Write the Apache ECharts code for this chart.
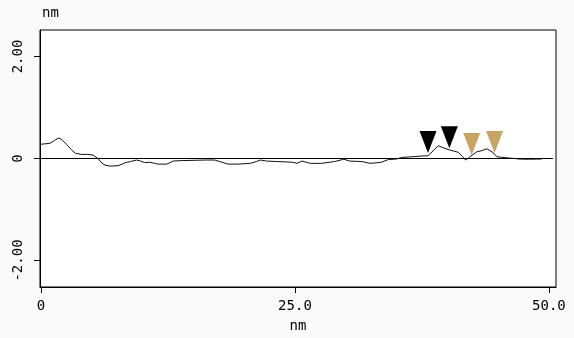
<!DOCTYPE html>
<html>
<head>
<meta charset="utf-8">
<script src="https://cdn.jsdelivr.net/npm/echarts@6/dist/echarts.min.js"></script>
<style>
  html, body { margin: 0; padding: 0; background: #fafafa; }
  #chart-container { width: 574px; height: 338px; }
</style>
</head>
<body>
<div id="chart-container"></div>
<script>
// profile trace (nm vs nm)
var profileX = [0, 0.5, 0.9, 1.3, 1.7, 2.0, 2.5, 3.0, 3.4, 4.0, 4.6, 5.1, 5.6, 6.0, 6.3, 6.8, 7.6, 8.0, 8.3, 8.8,
  9.4, 9.8, 10.2, 10.7, 11.1, 11.5, 12.4, 13.0, 14.0, 15.2, 16.2, 17.1, 17.6, 18.4, 19.4, 20.6, 21.2, 21.6, 22.2, 23.2,
  24.0, 24.8, 25.2, 25.7, 26.5, 27.6, 28.9, 29.8, 30.4, 31.6, 32.4, 33.5, 34.2, 35.0, 35.5, 36.6, 37.6, 38.1, 38.6, 39.1,
  39.6, 40.2, 41.1, 41.5, 41.8, 42.2, 42.9, 43.4, 43.9, 44.4, 44.9, 45.3, 46.0, 46.65, 47.0, 48.0, 49.3];
var profileY = [0.28, 0.29, 0.30, 0.35, 0.40, 0.38, 0.28, 0.17, 0.10, 0.08, 0.08, 0.07, 0.0, -0.09, -0.13, -0.15, -0.14, -0.11, -0.08, -0.06,
  -0.03, -0.05, -0.08, -0.075, -0.09, -0.11, -0.11, -0.05, -0.04, -0.035, -0.03, -0.03, -0.06, -0.11, -0.11, -0.095, -0.06, -0.03, -0.05, -0.06,
  -0.065, -0.075, -0.095, -0.05, -0.095, -0.095, -0.06, -0.015, -0.05, -0.06, -0.095, -0.075, -0.02, -0.01, 0.02, 0.035, 0.05, 0.055, 0.15, 0.25,
  0.21, 0.17, 0.12, 0.035, -0.03, 0.03, 0.13, 0.155, 0.19, 0.13, 0.035, 0.025, 0.01, 0.0, -0.01, -0.015, -0.01];

// reference (zero) line
var zeroX = [0, 50.4];
var zeroY = [0, 0];

// cursor markers (tip position)
var blackMarkX = [38.1, 40.2];
var blackMarkY = [0.11, 0.2];
var tanMarkX = [42.4, 44.65];
var tanMarkY = [0.07, 0.11];

var xTicks = [0, 25, 50];
var xTickLabels = ['0', '25.0', '50.0'];
var yTicks = [-2, 0, 2];
var yTickLabels = ['-2.00', '0', '2.00'];

function pairs(xs, ys) {
  return xs.map(function (x, i) { return [x, ys[i]]; });
}

var dom = document.getElementById('chart-container');
var myChart = echarts.init(dom, null, { renderer: 'canvas' });

var font = 'DejaVu Sans Mono';
var tri = 'path://M0,0 L17,0 L8.5,22 Z';

var option = {
  backgroundColor: '#fafafa',
  animation: false,
  grid: {
    left: 40, top: 30, right: 18, bottom: 51,
    show: true, backgroundColor: '#ffffff', borderColor: '#000', borderWidth: 1
  },
  xAxis: {
    type: 'value',
    min: -0.1,
    max: 50.7,
    name: 'nm',
    nameLocation: 'middle',
    nameGap: 32,
    nameTextStyle: { color: '#000', fontFamily: font, fontSize: 14 },
    axisLine: { onZero: false, lineStyle: { color: '#000', width: 1 } },
    axisTick: { customValues: xTicks, length: 6, lineStyle: { color: '#000' } },
    axisLabel: {
      customValues: xTicks,
      margin: 12,
      color: '#000',
      fontFamily: font,
      fontSize: 14,
      formatter: function (v) { return xTickLabels[xTicks.indexOf(v)]; }
    },
    splitLine: { show: false }
  },
  yAxis: {
    type: 'value',
    min: -2.52,
    max: 2.52,
    name: 'nm',
    nameLocation: 'end',
    nameGap: 10,
    nameTextStyle: { color: '#000', fontFamily: font, fontSize: 14, align: 'left', padding: [0, 0, 0, 2] },
    axisLine: { onZero: false, lineStyle: { color: '#000', width: 1 } },
    axisTick: { customValues: yTicks, length: 6, lineStyle: { color: '#000' } },
    axisLabel: {
      customValues: yTicks,
      rotate: 90,
      margin: 15,
      color: '#000',
      fontFamily: font,
      fontSize: 14,
      formatter: function (v) { return yTickLabels[yTicks.indexOf(v)]; }
    },
    splitLine: { show: false }
  },
  series: [
    {
      type: 'line',
      data: pairs(zeroX, zeroY),
      showSymbol: false,
      lineStyle: { color: '#000', width: 1 },
      z: 2
    },
    {
      type: 'line',
      data: pairs(profileX, profileY),
      showSymbol: false,
      lineStyle: { color: '#111', width: 1 },
      z: 3
    },
    {
      type: 'scatter',
      data: pairs(blackMarkX, blackMarkY),
      symbol: tri,
      symbolSize: [17, 22],
      symbolOffset: [0, -11],
      itemStyle: { color: '#000', opacity: 1 },
      z: 4
    },
    {
      type: 'scatter',
      data: pairs(tanMarkX, tanMarkY),
      symbol: tri,
      symbolSize: [17, 22],
      symbolOffset: [0, -11],
      itemStyle: { color: '#c8a464', opacity: 1 },
      z: 4
    }
  ]
};

myChart.setOption(option);
window.addEventListener('resize', myChart.resize);
</script>
</body>
</html>
